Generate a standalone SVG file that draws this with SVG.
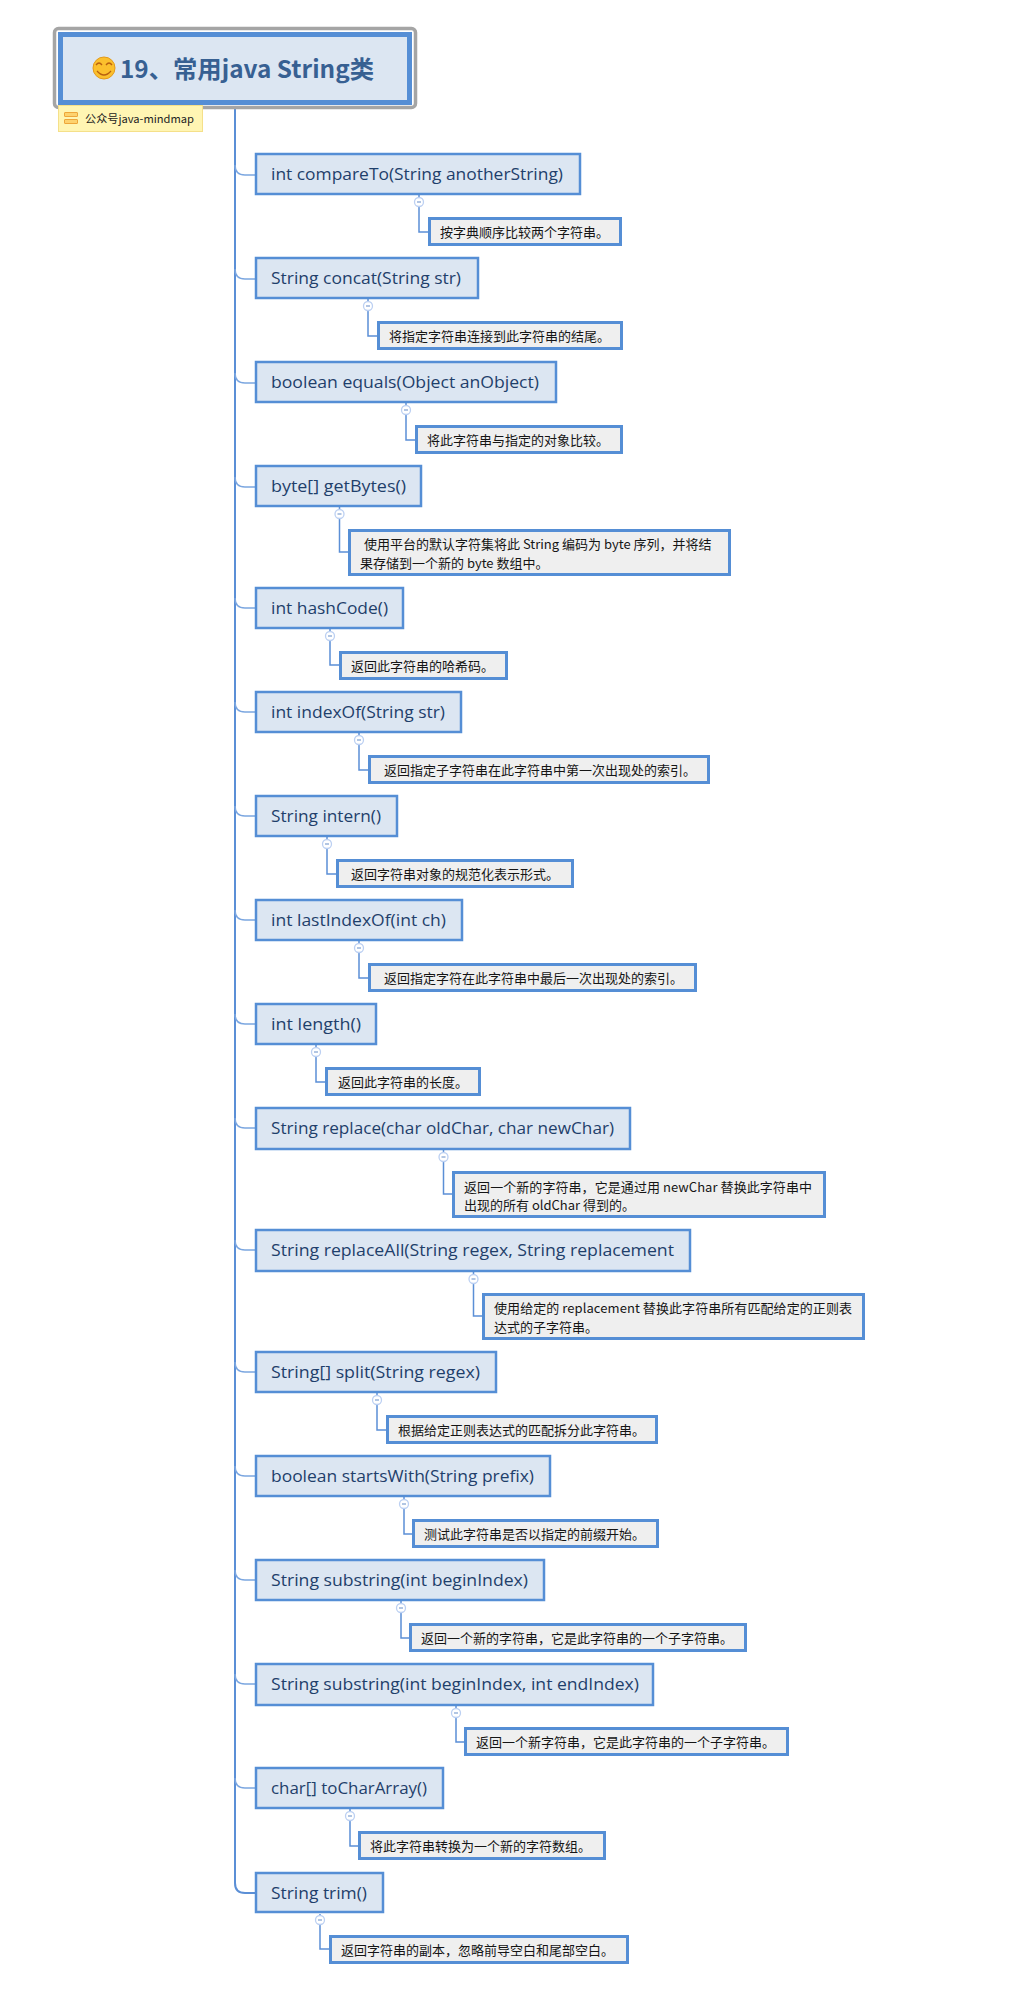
<svg xmlns="http://www.w3.org/2000/svg" width="1028" height="1991" viewBox="0 0 1028 1991">
<style>
.n rect{fill:#dce6f2;stroke:#558ed5;stroke-width:2.5}
.n text{font:16px "Open Sans","Noto Sans CJK SC",sans-serif;fill:#1f3f6b}
.c rect{fill:#efefef;stroke:#558ed5;stroke-width:3}
.c text{font:13px "Noto Sans CJK SC","Noto Sans",sans-serif;fill:#151515}
#connectors path{fill:none;stroke:#5b8fd6;stroke-width:1.5}
#connectors path.s{stroke-width:2}
#connectors path.b{stroke:#7ba6e0}
#connectors circle{fill:#fff;stroke:#bcd0f2;stroke-width:1.3}
#connectors line{stroke:#7f9fd0;stroke-width:1.2}
</style>
<rect width="1028" height="1991" fill="#fff"/>
<g id="connectors">
<path class="s" d="M235 105V1883Q235 1893 245 1893H255"/>
<path class="b" d="M235 165Q235 175 245 175H255M235 269Q235 279 245 279H255M235 373Q235 383 245 383H255M235 477Q235 487 245 487H255M235 598Q235 608 245 608H255M235 702Q235 712 245 712H255M235 806Q235 816 245 816H255M235 910Q235 920 245 920H255M235 1014Q235 1024 245 1024H255M235 1118Q235 1128 245 1128H255M235 1240Q235 1250 245 1250H255M235 1362Q235 1372 245 1372H255M235 1466Q235 1476 245 1476H255M235 1570Q235 1580 245 1580H255M235 1674Q235 1684 245 1684H255M235 1778Q235 1788 245 1788H255"/>
<path d="M419 195V232H428"/><circle cx="419" cy="202" r="4.5"/><line x1="417" y1="202" x2="421" y2="202"/>
<path d="M368 299V336H377"/><circle cx="368" cy="306" r="4.5"/><line x1="366" y1="306" x2="370" y2="306"/>
<path d="M406 403V440H415"/><circle cx="406" cy="410" r="4.5"/><line x1="404" y1="410" x2="408" y2="410"/>
<path d="M339.500 507V552H348"/><circle cx="339.500" cy="514" r="4.500"/><line x1="337.500" y1="514" x2="341.500" y2="514"/>
<path d="M330 629V665H339"/><circle cx="330" cy="636" r="4.500"/><line x1="328" y1="636" x2="332" y2="636"/>
<path d="M359 733V770H368"/><circle cx="359" cy="740" r="4.500"/><line x1="357" y1="740" x2="361" y2="740"/>
<path d="M327 837V874H336"/><circle cx="327" cy="844" r="4.500"/><line x1="325" y1="844" x2="329" y2="844"/>
<path d="M359 941V978H368"/><circle cx="359" cy="948" r="4.500"/><line x1="357" y1="948" x2="361" y2="948"/>
<path d="M316 1045V1082H325"/><circle cx="316" cy="1052" r="4.500"/><line x1="314" y1="1052" x2="318" y2="1052"/>
<path d="M443.500 1150V1194H452"/><circle cx="443.500" cy="1157" r="4.500"/><line x1="441.500" y1="1157" x2="445.500" y2="1157"/>
<path d="M473.500 1272V1316H482"/><circle cx="473.500" cy="1279" r="4.500"/><line x1="471.500" y1="1279" x2="475.500" y2="1279"/>
<path d="M377 1393V1430H386"/><circle cx="377" cy="1400" r="4.500"/><line x1="375" y1="1400" x2="379" y2="1400"/>
<path d="M404 1497V1534H412"/><circle cx="404" cy="1504" r="4.500"/><line x1="402" y1="1504" x2="406" y2="1504"/>
<path d="M401 1601V1638H410"/><circle cx="401" cy="1608" r="4.500"/><line x1="399" y1="1608" x2="403" y2="1608"/>
<path d="M456 1705V1742H464"/><circle cx="456" cy="1713" r="4.500"/><line x1="454" y1="1713" x2="458" y2="1713"/>
<path d="M350 1809V1846H358"/><circle cx="350" cy="1816" r="4.500"/><line x1="348" y1="1816" x2="352" y2="1816"/>
<path d="M320 1914V1949H329"/><circle cx="320" cy="1920" r="4.500"/><line x1="318" y1="1920" x2="322" y2="1920"/>
</g>
<g id="root">
<rect x="54.500" y="28.500" width="361" height="79" rx="4" fill="#fff" stroke="#a5a5a5" stroke-width="3.500"/>
<rect x="60.500" y="34.500" width="349" height="68" fill="#dce6f2" stroke="#558ed5" stroke-width="5"/>
<circle cx="104" cy="68" r="11" fill="#fbc02d" stroke="#e39a1c" stroke-width="1"/>
<path d="M96 65q3-4 6 0M106 65q3-4 6 0M97 71q7 8 14 0" fill="none" stroke="#b8600f" stroke-width="1.300"/>
<text x="120" y="78" font-family="'Noto Sans CJK SC','Noto Sans',sans-serif" font-size="24" font-weight="700" fill="#376092" textLength="254" lengthAdjust="spacingAndGlyphs">19、常用java String类</text>
</g>
<g id="note">
<rect x="58.500" y="105.500" width="144" height="26" fill="#fff5b3" stroke="#f5e08a"/>
<rect x="64.500" y="112.500" width="13" height="4" rx="0.500" fill="#fdd26e" stroke="#eda63a"/>
<rect x="64.500" y="119.500" width="13" height="4" rx="0.500" fill="#fdd26e" stroke="#eda63a"/>
<text x="85" y="123" font-family="'Noto Sans CJK SC','Noto Sans',sans-serif" font-size="11" fill="#222" textLength="109" lengthAdjust="spacingAndGlyphs">公众号java-mindmap</text>
</g>
<g id="n1" class="n"><rect x="256" y="154" width="324" height="40"/><text x="271" y="180" textLength="292" lengthAdjust="spacingAndGlyphs">int compareTo(String anotherString)</text></g>
<g id="c1" class="c"><rect x="429.500" y="218.500" width="191" height="26"/><text x="440" y="237">按字典顺序比较两个字符串。</text></g>
<g id="n2" class="n"><rect x="256" y="258" width="222" height="40"/><text x="271" y="284" textLength="190" lengthAdjust="spacingAndGlyphs">String concat(String str)</text></g>
<g id="c2" class="c"><rect x="378.500" y="322.500" width="243" height="26"/><text x="389" y="341">将指定字符串连接到此字符串的结尾。</text></g>
<g id="n3" class="n"><rect x="256" y="362" width="300" height="40"/><text x="271" y="388" textLength="268" lengthAdjust="spacingAndGlyphs">boolean equals(Object anObject)</text></g>
<g id="c3" class="c"><rect x="416.500" y="426.500" width="205" height="26"/><text x="427" y="445">将此字符串与指定的对象比较。</text></g>
<g id="n4" class="n"><rect x="256" y="466" width="165" height="40"/><text x="271" y="492" textLength="135" lengthAdjust="spacingAndGlyphs">byte[] getBytes()</text></g>
<g id="c4" class="c"><rect x="349.500" y="530.500" width="380" height="44"/><text x="364" y="549">使用平台的默认字符集将此 String 编码为 byte 序列，并将结</text><text x="360" y="567.500">果存储到一个新的 byte 数组中。</text></g>
<g id="n5" class="n"><rect x="256" y="588" width="147" height="40"/><text x="271" y="614" textLength="117" lengthAdjust="spacingAndGlyphs">int hashCode()</text></g>
<g id="c5" class="c"><rect x="340.500" y="652.500" width="166" height="26"/><text x="351" y="671">返回此字符串的哈希码。</text></g>
<g id="n6" class="n"><rect x="256" y="692" width="205" height="40"/><text x="271" y="718" textLength="174" lengthAdjust="spacingAndGlyphs">int indexOf(String str)</text></g>
<g id="c6" class="c"><rect x="369.500" y="756.500" width="339" height="26"/><text x="384" y="775">返回指定子字符串在此字符串中第一次出现处的索引。</text></g>
<g id="n7" class="n"><rect x="256" y="796" width="141" height="40"/><text x="271" y="822" textLength="110" lengthAdjust="spacingAndGlyphs">String intern()</text></g>
<g id="c7" class="c"><rect x="337.500" y="860.500" width="235" height="26"/><text x="351" y="879">返回字符串对象的规范化表示形式。</text></g>
<g id="n8" class="n"><rect x="256" y="900" width="206" height="40"/><text x="271" y="926" textLength="175" lengthAdjust="spacingAndGlyphs">int lastIndexOf(int ch)</text></g>
<g id="c8" class="c"><rect x="369.500" y="964.500" width="326" height="26"/><text x="384" y="983">返回指定字符在此字符串中最后一次出现处的索引。</text></g>
<g id="n9" class="n"><rect x="256" y="1004" width="120" height="40"/><text x="271" y="1030" textLength="90" lengthAdjust="spacingAndGlyphs">int length()</text></g>
<g id="c9" class="c"><rect x="326.500" y="1068.500" width="153" height="26"/><text x="338" y="1087">返回此字符串的长度。</text></g>
<g id="n10" class="n"><rect x="256" y="1108" width="374" height="41"/><text x="271" y="1134" textLength="343" lengthAdjust="spacingAndGlyphs">String replace(char oldChar, char newChar)</text></g>
<g id="c10" class="c"><rect x="453.500" y="1172.500" width="371" height="44"/><text x="464" y="1191.500" textLength="348" lengthAdjust="spacing">返回一个新的字符串，它是通过用 newChar 替换此字符串中</text><text x="464" y="1210">出现的所有 oldChar 得到的。</text></g>
<g id="n11" class="n"><rect x="256" y="1230" width="434" height="41"/><text x="271" y="1256" textLength="403" lengthAdjust="spacingAndGlyphs">String replaceAll(String regex, String replacement</text></g>
<g id="c11" class="c"><rect x="483.500" y="1294.500" width="380" height="44"/><text x="494" y="1313" textLength="358" lengthAdjust="spacing">使用给定的 replacement 替换此字符串所有匹配给定的正则表</text><text x="494" y="1331.500">达式的子字符串。</text></g>
<g id="n12" class="n"><rect x="256" y="1352" width="240" height="40"/><text x="271" y="1378" textLength="209" lengthAdjust="spacingAndGlyphs">String[] split(String regex)</text></g>
<g id="c12" class="c"><rect x="387.500" y="1416.500" width="269" height="26"/><text x="398" y="1435">根据给定正则表达式的匹配拆分此字符串。</text></g>
<g id="n13" class="n"><rect x="256" y="1456" width="294" height="40"/><text x="271" y="1482" textLength="263" lengthAdjust="spacingAndGlyphs">boolean startsWith(String prefix)</text></g>
<g id="c13" class="c"><rect x="413.500" y="1520.500" width="244" height="26"/><text x="424" y="1539">测试此字符串是否以指定的前缀开始。</text></g>
<g id="n14" class="n"><rect x="256" y="1560" width="288" height="40"/><text x="271" y="1586" textLength="257" lengthAdjust="spacingAndGlyphs">String substring(int beginIndex)</text></g>
<g id="c14" class="c"><rect x="410.500" y="1624.500" width="335" height="26"/><text x="421" y="1643">返回一个新的字符串，它是此字符串的一个子字符串。</text></g>
<g id="n15" class="n"><rect x="256" y="1664" width="397" height="41"/><text x="271" y="1690" textLength="368" lengthAdjust="spacingAndGlyphs">String substring(int beginIndex, int endIndex)</text></g>
<g id="c15" class="c"><rect x="465.500" y="1728.500" width="322" height="26"/><text x="476" y="1747">返回一个新字符串，它是此字符串的一个子字符串。</text></g>
<g id="n16" class="n"><rect x="256" y="1768" width="187" height="40"/><text x="271" y="1794" textLength="156" lengthAdjust="spacingAndGlyphs">char[] toCharArray()</text></g>
<g id="c16" class="c"><rect x="359.500" y="1832.500" width="245" height="26"/><text x="370" y="1851">将此字符串转换为一个新的字符数组。</text></g>
<g id="n17" class="n"><rect x="256" y="1873" width="127" height="39"/><text x="271" y="1899" textLength="96" lengthAdjust="spacingAndGlyphs">String trim()</text></g>
<g id="c17" class="c"><rect x="330.500" y="1936.500" width="297" height="26"/><text x="341" y="1955">返回字符串的副本，忽略前导空白和尾部空白。</text></g>
</svg>
